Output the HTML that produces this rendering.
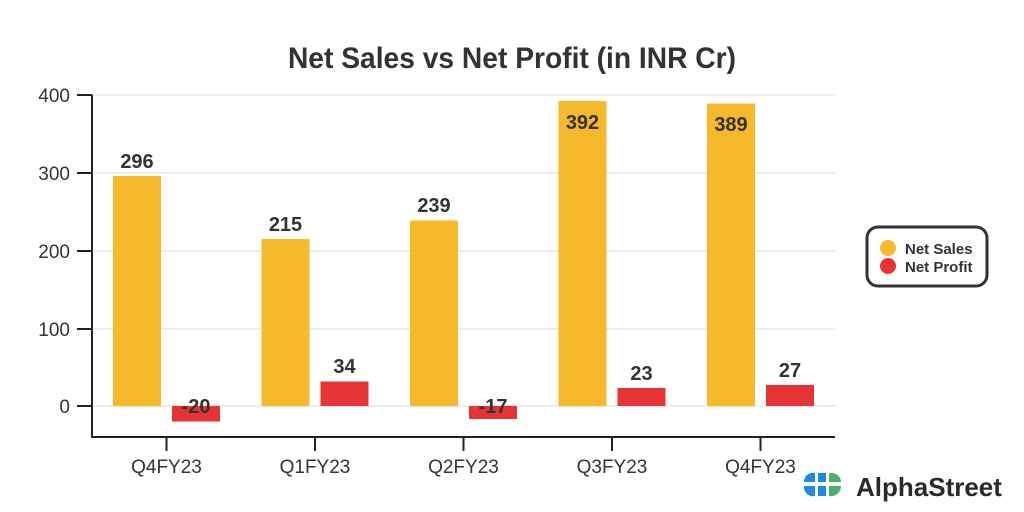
<!DOCTYPE html>
<html><head><meta charset="utf-8"><style>
body{margin:0;background:#fff;}
svg{display:block;font-family:"Liberation Sans",sans-serif;}
</style></head><body>
<svg width="1024" height="512" viewBox="0 0 1024 512">
<text x="512" y="68" text-anchor="middle" font-size="30" font-weight="bold" fill="#333" transform="translate(512 0) scale(0.94 1) translate(-512 0)">Net Sales vs Net Profit (in INR Cr)</text>
<g stroke="#e6e6e6" stroke-width="1.5">
<line x1="92" x2="835" y1="95" y2="95"/><line x1="92" x2="835" y1="173" y2="173"/>
<line x1="92" x2="835" y1="251" y2="251"/><line x1="92" x2="835" y1="329" y2="329"/>
<line x1="92" x2="835" y1="406" y2="406"/>
</g>
<g fill="#f6b92b">
<rect x="113" y="176" width="48" height="230"/>
<rect x="261.5" y="239" width="48" height="167"/>
<rect x="410" y="220.5" width="48" height="185.5"/>
<rect x="558.5" y="101" width="48" height="305"/>
<rect x="707" y="103.5" width="48" height="302.5"/>
</g>
<g fill="#e63333">
<rect x="172" y="406" width="48" height="15.5"/>
<rect x="320.5" y="381.5" width="48" height="24.5"/>
<rect x="469" y="406" width="48" height="13"/>
<rect x="617.5" y="388" width="48" height="18"/>
<rect x="766" y="385" width="48" height="21"/>
</g>
<g stroke="#222" stroke-width="2" fill="none">
<line x1="92" y1="95" x2="92" y2="437"/><line x1="91" y1="437" x2="835" y2="437"/>
<line x1="77" y1="95" x2="92" y2="95"/><line x1="77" y1="173" x2="92" y2="173"/>
<line x1="77" y1="251" x2="92" y2="251"/><line x1="77" y1="329" x2="92" y2="329"/>
<line x1="77" y1="406" x2="92" y2="406"/>
<line x1="166.5" y1="437" x2="166.5" y2="451"/><line x1="315" y1="437" x2="315" y2="451"/>
<line x1="463.5" y1="437" x2="463.5" y2="451"/><line x1="612" y1="437" x2="612" y2="451"/>
<line x1="760.5" y1="437" x2="760.5" y2="451"/>
</g>
<g font-size="19" fill="#333" text-anchor="end">
<text x="70" y="102">400</text><text x="70" y="180">300</text><text x="70" y="258">200</text>
<text x="70" y="336">100</text><text x="70" y="413">0</text>
</g>
<g font-size="19" fill="#333" text-anchor="middle">
<text x="166.5" y="473">Q4FY23</text><text x="315" y="473">Q1FY23</text><text x="463.5" y="473">Q2FY23</text>
<text x="612" y="473">Q3FY23</text><text x="760.5" y="473">Q4FY23</text>
</g>
<g font-size="20" font-weight="bold" fill="#333" text-anchor="middle">
<text x="137" y="168">296</text><text x="285.5" y="231">215</text><text x="434" y="212">239</text>
<text x="582.5" y="129">392</text><text x="731" y="131">389</text>
<text x="196" y="413">-20</text><text x="344.5" y="373">34</text><text x="493" y="413">-17</text>
<text x="641.5" y="380">23</text><text x="790" y="377">27</text>
</g>
<rect x="867" y="227" width="120" height="59" rx="11" fill="#fff" stroke="#333" stroke-width="3"/>
<circle cx="888" cy="248" r="8" fill="#f6b92b"/><circle cx="888" cy="266" r="8" fill="#e63333"/>
<g font-size="15" font-weight="bold" fill="#333"><text x="905" y="254">Net Sales</text><text x="905" y="272">Net Profit</text></g>
<g>
<path d="M815 473 a9 9 0 0 0 -11 9 h11z" fill="#1f8ae6"/>
<path d="M804 486 h11 v10 a9 9 0 0 1 -11 -10z" fill="#1f8ae6"/>
<path d="M818 473 h8 v9 h-8z M818 486 h8 v10 h-8z" fill="#1f8ae6"/>
<path d="M829 473 a10 9 0 0 1 12 9 h-12z M829 486 h12 a10 10 0 0 1 -12 10z" fill="#4caf6e"/>
</g>
<text x="856" y="496" font-size="26" font-weight="bold" fill="#2a2a2a">AlphaStreet</text>
</svg>
</body></html>
